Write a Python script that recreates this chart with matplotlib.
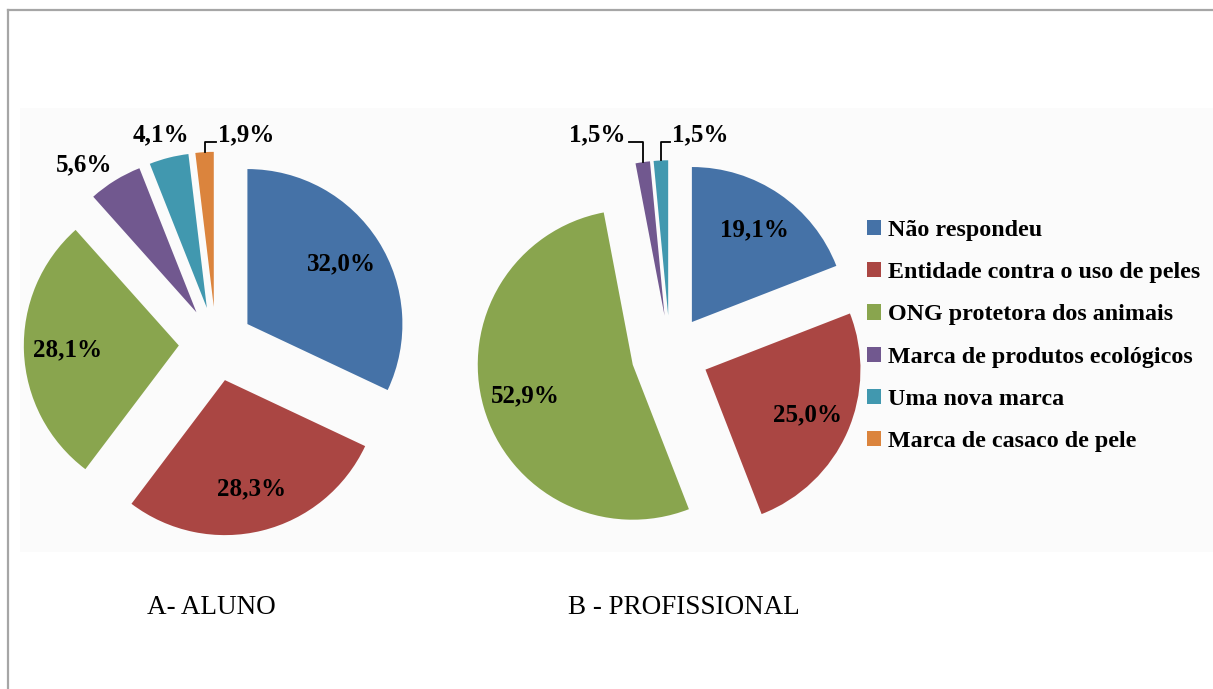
import matplotlib
matplotlib.use('Agg')
import matplotlib.pyplot as plt
from matplotlib.patches import Rectangle
from matplotlib.lines import Line2D
import numpy as np

plt.rcParams['font.family'] = ['Liberation Serif', 'DejaVu Serif']

# Dados (%)
categorias = ['Não respondeu', 'Entidade contra o uso de peles', 'ONG protetora dos animais',
              'Marca de produtos ecológicos', 'Uma nova marca', 'Marca de casaco de pele']
aluno = [32.0, 28.3, 28.1, 5.6, 4.1, 1.9]
profissional = [19.1, 25.0, 52.9, 1.5, 1.5, 0.0]
titulos = ['A- ALUNO', 'B - PROFISSIONAL']
cores = ['#4572A7', '#AA4643', '#89A54E', '#71588F', '#4198AF', '#DB843D']

W, H = 1213, 689
ESC = 155  # pixels por unidade de raio


def fx(x):
    return x / W


def fy(y):
    return 1 - y / H


def fmt(v):
    return f'{v:.1f}%'.replace('.', ',')


fig = plt.figure(figsize=(W / 100, H / 100), dpi=100)

# moldura e fundo da area do grafico
fig.patches.append(Rectangle((fx(20), fy(552)), fx(1213) - fx(20), fy(108) - fy(552),
                             transform=fig.transFigure, facecolor='#fbfbfb', edgecolor='none', zorder=-2))
fig.lines.append(Line2D([fx(8), fx(8)], [fy(10), fy(700)], transform=fig.transFigure,
                        color='#a6a6a6', lw=1.6, zorder=-1))
fig.lines.append(Line2D([fx(8), fx(1220)], [fy(10), fy(10)], transform=fig.transFigure,
                        color='#a6a6a6', lw=1.6, zorder=-1))


def pizza(cx, cy, valores, explode, externos):
    lim = 1.6
    ax = fig.add_axes([fx(cx - lim * ESC), fy(cy + lim * ESC), 2 * lim * ESC / W, 2 * lim * ESC / H])
    wedges, _ = ax.pie(valores, colors=cores, startangle=90, counterclock=False,
                       explode=[explode] * len(valores), radius=1,
                       wedgeprops=dict(linewidth=0))
    ax.set_xlim(-lim, lim)
    ax.set_ylim(-lim, lim)
    ax.set_aspect('equal')
    ax.axis('off')
    for i, (w, v) in enumerate(zip(wedges, valores)):
        if v <= 0:
            continue
        ang = np.deg2rad((w.theta1 + w.theta2) / 2)
        x0, y0 = w.center
        if i not in externos:
            ax.text(x0 + 0.72 * np.cos(ang), y0 + 0.72 * np.sin(ang), fmt(v),
                    ha='center', va='center', fontsize=18, fontweight='bold')
            continue
        tx, ty, ha, guia = externos[i]
        ax.text(tx, ty, fmt(v), ha=ha, va='center', fontsize=18, fontweight='bold')
        if guia is not None:
            xe, ye = guia
            xs, ys = x0 + np.cos(ang), y0 + np.sin(ang)
            ax.plot([xs, xs, xe], [ys, ye, ye], color='black', lw=1.3)
    return wedges


# rotulos externos: indice -> (x, y, alinhamento, fim da linha guia)
wa = pizza(216, 344, aluno, 0.24, {
    3: (-0.848, 1.155, 'center', None),
    4: (-0.358, 1.348, 'center', None),
    5: (0.013, 1.348, 'left', (0.0, 1.303)),
})
pizza(670, 354, profissional, 0.25, {
    3: (-0.284, 1.413, 'right', (-0.265, 1.368)),
    4: (0.013, 1.413, 'left', (0.0, 1.368)),
})

fig.legend(wa, categorias, loc='center left', bbox_to_anchor=(fx(845), fy(336)),
           frameon=False, prop=dict(size=17.3, weight='bold'),
           handlelength=0.6, handleheight=0.6, handletextpad=0.3, labelspacing=0.88)

fig.text(fx(147), fy(607), titulos[0], ha='left', va='center', fontsize=19.5)
fig.text(fx(568), fy(607), titulos[1], ha='left', va='center', fontsize=19.5)

fig.savefig('out.png', dpi=100)
